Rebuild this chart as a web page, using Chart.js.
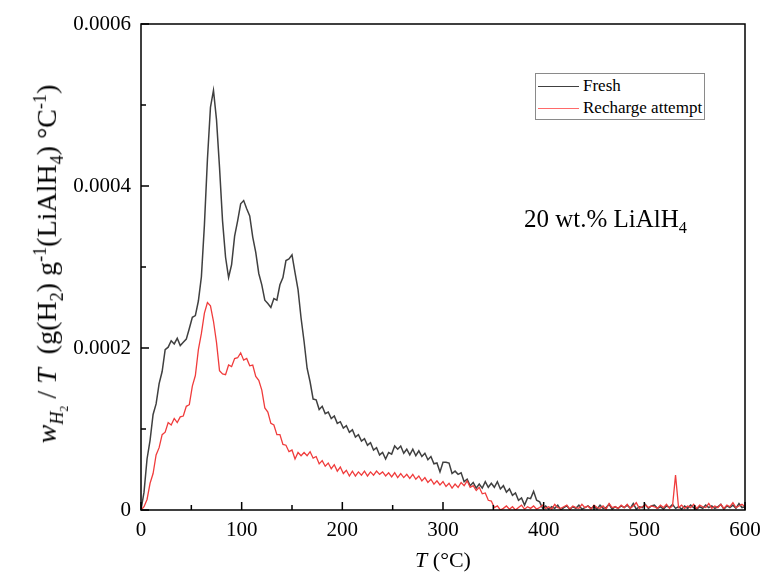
<!DOCTYPE html>
<html>
<head>
<meta charset="utf-8">
<script src="https://cdn.jsdelivr.net/npm/chart.js@4.4.1/dist/chart.umd.min.js"></script>
<style>
  html, body { margin: 0; padding: 0; background: #fff; }
  #wrap { position: relative; width: 760px; height: 582px; font-family: "Liberation Serif", "Times New Roman", serif; color: #000; }
  #chart { position: absolute; left: 0; top: 0; }
  sub, sup { font-size: 0.65em; line-height: 0; }
  .lbl { position: absolute; white-space: nowrap; }
  #ytitle { font-size: 28px; line-height: 28px; left: 48px; top: 264px; transform: translate(-50%, -50%) rotate(-90deg); }
  #xtitle { font-size: 22px; line-height: 22px; left: 443px; top: 549px; transform: translateX(-50%); }
  #note { font-size: 25px; line-height: 25px; left: 524px; top: 206px; }
  #legend { position: absolute; left: 535px; top: 73px; width: 168px; height: 45px; border: 1px solid #8a8a8a; background: #fff; font-size: 17px; }
  .row { position: absolute; left: 2px; height: 20px; }
  .row span.ln { position: absolute; left: 0; top: 10px; width: 41px; height: 0; }
  .row span.tx { position: absolute; left: 45px; top: 0; line-height: 20px; white-space: nowrap; }
</style>
</head>
<body>
<div id="wrap">
  <canvas id="chart" width="760" height="582"></canvas>
  <div id="ytitle" class="lbl"><i>w</i><sub><i>H</i><sub>2</sub></sub> / <i>T</i>&nbsp;&nbsp;(g(H<sub>2</sub>) g<sup>-1</sup>(LiAlH<sub>4</sub>) °C<sup>-1</sup>)</div>
  <div id="xtitle" class="lbl"><i>T</i> (°C)</div>
  <div id="note" class="lbl">20 wt.% LiAlH<sub>4</sub></div>
  <div id="legend">
    <div class="row" style="top:2px"><span class="ln" style="border-top:1px solid #404040"></span><span class="tx">Fresh</span></div>
    <div class="row" style="top:24px"><span class="ln" style="border-top:1px solid #ff6a6a"></span><span class="tx">Recharge attempt</span></div>
  </div>
</div>
<script>
// Temperature grid (°C), one sample every 3 degrees
const temps = Array.from({length: 201}, (_, i) => i * 3);

// Fresh sample, w/T in units of 1e-6 g(H2) g-1 °C-1
const freshE6 = [
  0, 22, 63, 86, 118, 131, 156, 171, 198, 201,
  209, 205, 212, 203, 207, 211, 224, 238, 240, 258,
  288, 352, 433, 497, 518, 482, 423, 357, 312, 287,
  303, 338, 357, 378, 382, 372, 363, 337, 318, 292,
  278, 259, 255, 250, 261, 259, 278, 287, 308, 310,
  315, 293, 272, 237, 208, 175, 158, 137, 136, 124,
  128, 119, 121, 113, 116, 107, 109, 101, 104, 96,
  99, 90, 93, 85, 88, 80, 83, 74, 77, 68,
  71, 63, 71, 69, 79, 75, 79, 70, 75, 68,
  75, 67, 73, 66, 70, 62, 66, 57, 58, 47,
  59, 59, 58, 45, 48, 44, 46, 35, 38, 30,
  34, 27, 32, 27, 35, 28, 33, 28, 35, 26,
  30, 22, 26, 18, 21, 12, 15, 6, 15, 14,
  23, 12, 10, 2, 5, 1, 4, 2, 6, 0,
  3, 5, 1, 4, 2, 6, 1, 3, 5, 2,
  4, 1, 6, 2, 3, 7, 1, 4, 2, 5,
  3, 6, 2, 8, 1, 4, 3, 7, 2, 5,
  6, 2, 4, 1, 5, 3, 7, 2, 4, 1,
  5, 2, 6, 3, 1, 4, 2, 6, 3, 5,
  2, 4, 7, 1, 5, 3, 6, 2, 8, 3,
  4
];

// Recharge attempt, same units
const rechargeE6 = [
  0, 4, 13, 33, 45, 68, 77, 93, 96, 108,
  105, 113, 108, 115, 116, 128, 130, 153, 166, 198,
  218, 243, 256, 252, 233, 207, 172, 168, 167, 179,
  177, 187, 188, 194, 185, 187, 178, 179, 165, 160,
  148, 126, 121, 107, 105, 93, 93, 81, 80, 72,
  74, 63, 71, 67, 71, 67, 72, 64, 66, 57,
  61, 54, 58, 51, 56, 48, 53, 45, 49, 42,
  48, 42, 47, 43, 48, 42, 47, 43, 48, 44,
  47, 42, 46, 41, 46, 40, 45, 40, 44, 39,
  44, 38, 42, 36, 40, 34, 38, 32, 36, 31,
  35, 29, 33, 27, 32, 28, 34, 30, 36, 28,
  30, 24, 28, 20, 21, 12, 11, 3, 5, 0,
  2, 5, 1, 4, 0, 3, 6, 1, 4, 2,
  5, 1, 3, 6, 2, 4, 1, 7, 3, 2,
  4, 6, 1, 5, 3, 2, 7, 3, 5, 1,
  6, 3, 2, 5, 1, 8, 3, 4, 2, 6,
  3, 7, 2, 5, 9, 2, 4, 6, 3, 5,
  4, 2, 6, 3, 7, 2, 5, 43, 3, 6,
  2, 5, 3, 7, 2, 6, 4, 3, 8, 2,
  5, 3, 7, 2, 6, 4, 9, 3, 5, 7,
  4
];

// Axis ticks
const xMajor = [0, 100, 200, 300, 400, 500, 600];
const xMinor = [50, 150, 250, 350, 450, 550];
const yMajor = [0, 0.0002, 0.0004, 0.0006];
const yMinor = [0.0001, 0.0003, 0.0005];

const toPoints = arr => arr.map((v, i) => ({ x: temps[i], y: v / 1e6 }));

// Draws the closed frame and inward-pointing tick marks
const framePlugin = {
  id: 'frame',
  afterDraw(chart) {
    const c = chart.ctx, a = chart.chartArea;
    const xs = chart.scales.x, ys = chart.scales.y;
    c.save();
    c.strokeStyle = '#000';
    c.lineWidth = 1.5;
    c.strokeRect(a.left, a.top, a.right - a.left, a.bottom - a.top);
    c.beginPath();
    xMajor.forEach(v => { const p = xs.getPixelForValue(v); c.moveTo(p, a.bottom); c.lineTo(p, a.bottom - 8); });
    xMinor.forEach(v => { const p = xs.getPixelForValue(v); c.moveTo(p, a.bottom); c.lineTo(p, a.bottom - 5); });
    yMajor.forEach(v => { const p = ys.getPixelForValue(v); c.moveTo(a.left, p); c.lineTo(a.left + 8, p); });
    yMinor.forEach(v => { const p = ys.getPixelForValue(v); c.moveTo(a.left, p); c.lineTo(a.left + 5, p); });
    c.stroke();
    c.restore();
  }
};

const tickFont = { family: '"Liberation Serif", "Times New Roman", serif', size: 21 };

new Chart(document.getElementById('chart'), {
  type: 'line',
  data: {
    datasets: [
      { label: 'Recharge attempt', data: toPoints(rechargeE6), borderColor: '#f03c3c', borderWidth: 1.3, pointRadius: 0, tension: 0, order: 0 },
      { label: 'Fresh', data: toPoints(freshE6), borderColor: '#404040', borderWidth: 1.5, pointRadius: 0, tension: 0, order: 1 }
    ]
  },
  options: {
    responsive: false,
    animation: false,
    events: [],
    layout: { padding: { left: 0, top: 24, right: 15, bottom: 0 } },
    plugins: { legend: { display: false }, tooltip: { enabled: false } },
    scales: {
      x: {
        type: 'linear', min: 0, max: 600,
        grid: { display: false, drawTicks: false },
        border: { display: false },
        ticks: { stepSize: 100, padding: 8, color: '#000', font: tickFont, maxRotation: 0 },
        afterFit: s => { s.height = 72; s.paddingLeft = 0; s.paddingRight = 0; }
      },
      y: {
        type: 'linear', min: 0, max: 0.0006,
        grid: { display: false, drawTicks: false },
        border: { display: false },
        ticks: {
          stepSize: 0.0002, padding: 10, color: '#000', font: tickFont,
          callback: v => (Math.abs(v) < 1e-12 ? '0' : v.toFixed(4))
        },
        afterFit: s => { s.width = 141; s.paddingTop = 0; s.paddingBottom = 0; }
      }
    }
  },
  plugins: [framePlugin]
});
</script>
</body>
</html>
